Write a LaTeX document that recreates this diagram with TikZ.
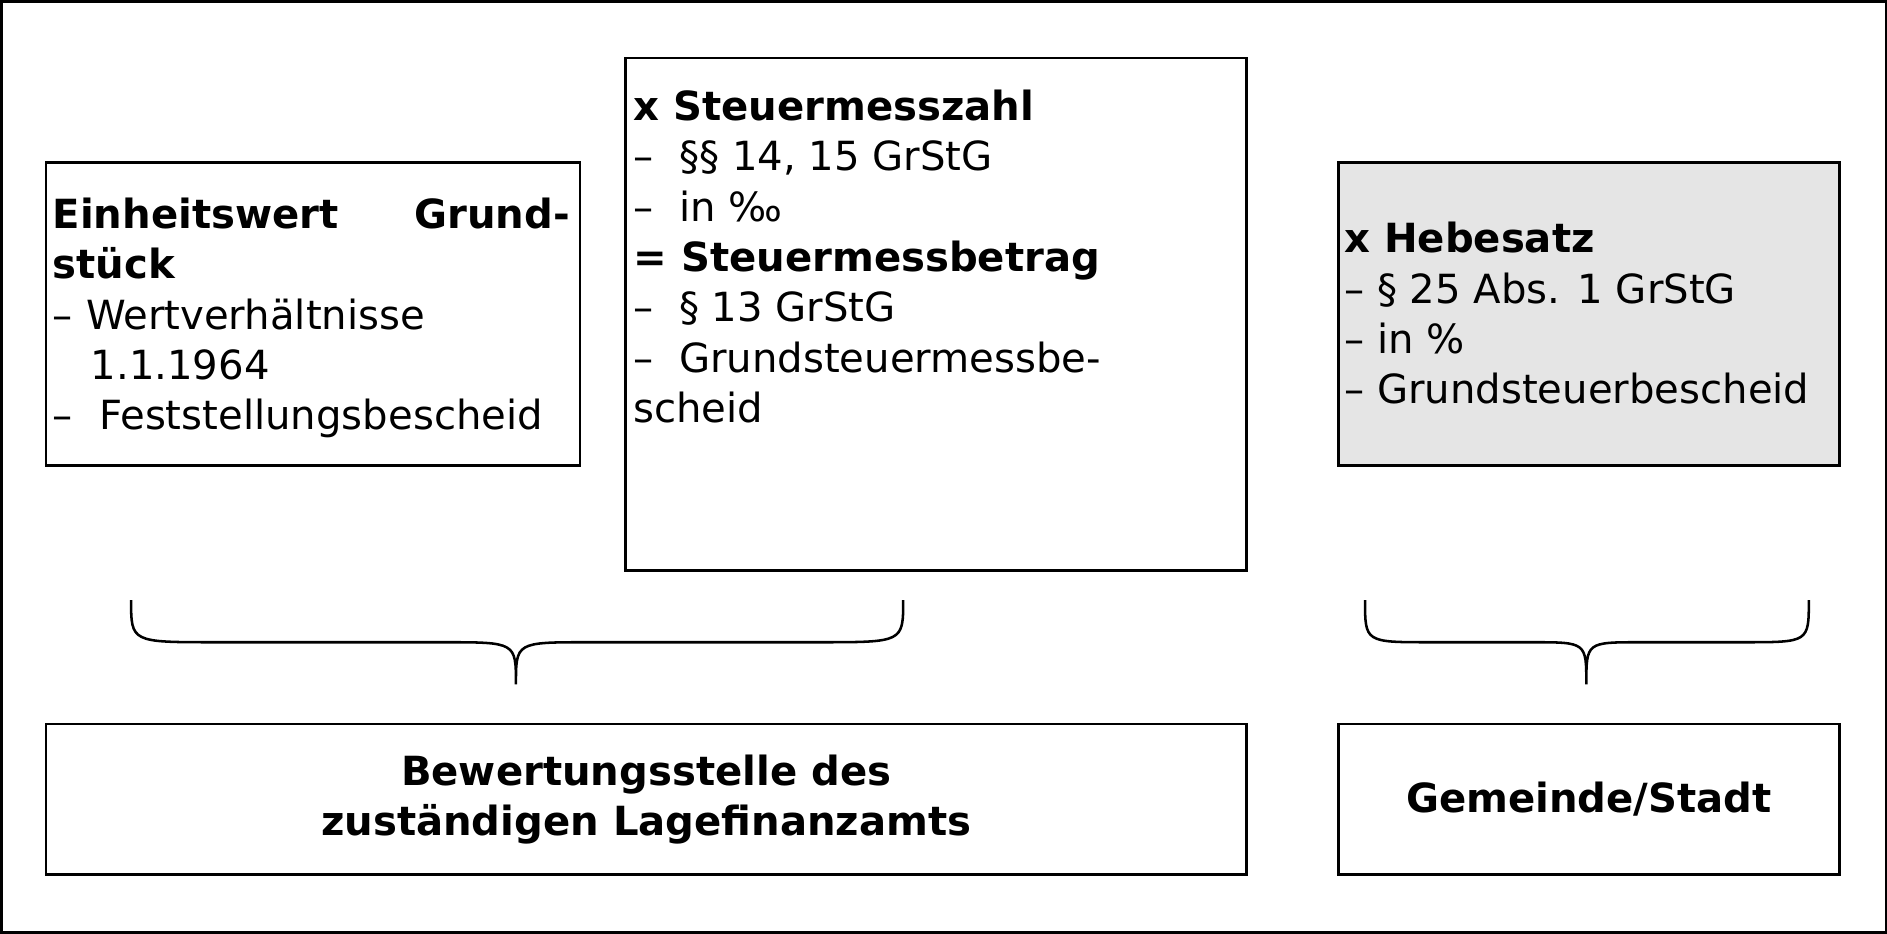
\documentclass[tikz,border=0pt]{standalone}
\usepackage{fontspec}
\setmainfont{DejaVu Sans}
\usetikzlibrary{positioning}
\tikzset{
  box/.style = {rectangle, draw, line width=0.6pt, anchor=north west, inner sep=0pt},
  txt/.style = {anchor=north west, inner sep=0pt, align=left,
    font=\fontsize{9.5}{11.9}\selectfont},
  brace/.style = {draw, line width=0.6pt}
}
\begin{document}
\begin{tikzpicture}[x=0.01cm, y=-0.01cm]
    % frame
    \node [box, minimum width=15.66cm, minimum height=7.74cm] (frame) at (1,1) {};
    % boxes
    \node [box, minimum width=4.44cm, minimum height=2.52cm] (wert) at (38,135) {};
    \node [box, minimum width=5.16cm, minimum height=4.26cm] (mess) at (520,48) {};
    \node [box, fill=black!10, minimum width=4.16cm, minimum height=2.52cm] (hebe) at (1113,135) {};
    \node [box, minimum width=9.98cm, minimum height=1.25cm] (amt) at (38,602) {};
    \node [box, minimum width=4.16cm, minimum height=1.25cm] (gem) at (1113,602) {};
    % texts
    \node [txt, text width=4.3cm, below right=0.3cm and 0.06cm of wert.north west, anchor=north west]
      (wert-t) {\textbf{Einheitswert\hfill Grund-}\\\textbf{stück}\\– Wertverhältnisse\\\hspace*{0.95em}1.1.1964\\–\ \ Feststellungsbescheid};
    \node [txt, below right=0.27cm and 0.07cm of mess.north west, anchor=north west] (mess-t)
      {\textbf{x Steuermesszahl}\\–\ \ §§ 14, 15 GrStG\\–\ \ in ‰\\\textbf{= Steuermessbetrag}\\–\ \ § 13 GrStG\\–\ \ Grundsteuermessbe-\\scheid};
    \node [txt, below right=0.5cm and 0.05cm of hebe.north west, anchor=north west] (hebe-t)
      {\textbf{x Hebesatz}\\– § 25 Abs. 1 GrStG\\– in \%\\– Grundsteuerbescheid};
    \node [txt, align=center, anchor=center, font=\fontsize{9.5}{11.9}\selectfont\bfseries] (amt-t) at (amt.center)
      {Bewertungsstelle des\\zuständigen Lagefinanzamts};
    \node [txt, anchor=center, font=\fontsize{9.5}{11.9}\selectfont\bfseries] (gem-t) at (gem.center) {Gemeinde/Stadt};
    % braces
    \coordinate (b1l) at (110,500);
    \coordinate (b1m) at (430,570);
    \coordinate (b1r) at (752,500);
    \coordinate (b2l) at (1136,500);
    \coordinate (b2m) at (1320,570);
    \coordinate (b2r) at (1505,500);
    \path [brace] (b1l) .. controls (110,535) .. (180,535) -- (370,535)
      .. controls (430,535) .. (b1m) .. controls (430,535) .. (490,535) -- (682,535)
      .. controls (752,535) .. (b1r);
    \path [brace] (b2l) .. controls (1136,535) .. (1190,535) -- (1275,535)
      .. controls (1320,535) .. (b2m) .. controls (1320,535) .. (1365,535) -- (1451,535)
      .. controls (1505,535) .. (b2r);
\end{tikzpicture}
\end{document}
